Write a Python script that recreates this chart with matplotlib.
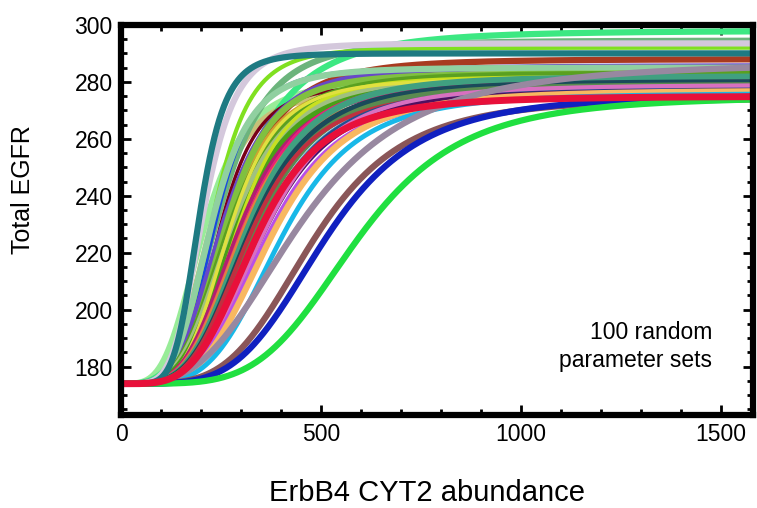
import numpy as np
import matplotlib
matplotlib.use("Agg")
import matplotlib.pyplot as plt
from matplotlib.ticker import MultipleLocator

plt.rcParams['font.family'] = ['Liberation Sans', 'DejaVu Sans']

# ---- data -----------------------------------------------------------------
baseline = 174.0          # Total EGFR at zero ErbB4 CYT2
x_max = 1580.0
# per-curve: half-maximal abundance, steepness, plateau level
midpoints = [205, 218, 245, 275, 230, 235, 243, 255, 270, 255, 265, 225, 260, 270,
             275, 285, 290, 270, 290, 305, 300, 315, 322, 330, 340, 320, 345, 350,
             345, 355, 365, 375, 400, 450, 480, 510, 205, 195, 590, 335]
hill_n    = [3.8, 4.5, 4.0, 3.5, 5.0, 5.0, 5.0, 4.5, 4.0, 4.0, 4.5, 4.5, 4.5, 4.0,
             4.0, 4.0, 4.5, 4.5, 4.0, 4.0, 4.0, 4.0, 4.0, 4.0, 4.0, 4.0, 4.0, 4.0,
             4.0, 4.0, 4.0, 4.0, 4.2, 3.2, 4.2, 4.3, 5.0, 6.0, 4.5, 4.0]
plateaus  = [281, 277, 294.5, 298, 292, 285, 279, 278, 288, 285.5, 280, 285, 283, 283,
             281, 280, 282, 281, 279, 281, 278, 282, 280, 279, 278, 277, 278, 277,
             276, 279, 276, 277, 276, 287, 274.5, 275.5, 293.5, 290, 275, 275]
colors    = ['#98ec98', '#c8c078', '#6cb47c', '#3ce882', '#80e020', '#1848e0', '#780018',
             '#7898c8', '#a83a20', '#6848c8', '#d0a030', '#90d0a0', '#80c040', '#5aa020',
             '#a0c080', '#48a018', '#c8e020', '#e0e040', '#b02070', '#e8207a', '#e08040',
             '#40a080', '#1a4a5a', '#5a8a50', '#68a8c8', '#c03040', '#205090', '#501060',
             '#1010a0', '#d870c0', '#b850e8', '#f8b860', '#18b8e8', '#9888a0', '#8a5658',
             '#1020c0', '#d4c8dc', '#1e7a82', '#20e040', '#e8103a']
widths    = [4.5, 4.5, 4.5, 4.5, 3.0, 2.0, 2.5, 4.5, 4.5, 4.5, 4.5, 4.5, 4.5, 4.5,
             4.5, 4.5, 2.5, 2.5, 3.0, 4.5, 3.0, 4.5, 4.5, 4.5, 3.0, 3.0, 4.5, 4.0,
             2.5, 3.0, 4.5, 4.5, 3.5, 4.5, 4.5, 4.5, 4.5, 4.5, 4.5, 5.0]

x_ticks = [0, 500, 1000, 1500]
y_ticks = [180, 200, 220, 240, 260, 280, 300]

# ---- figure ---------------------------------------------------------------
fig = plt.figure(figsize=(7.57, 5.08), dpi=100)
ax = fig.add_axes([0.160, 0.183, 0.835, 0.768])

x = np.linspace(0, x_max, 800)
for K, n, P, c, lw in zip(midpoints, hill_n, plateaus, colors, widths):
    y = baseline + (P - baseline) * x**n / (K**n + x**n)
    ax.plot(x, y, color=c, lw=lw, solid_capstyle='butt')

ax.set_xlim(0, x_max)
ax.set_ylim(163, 300)
ax.set_xticks(x_ticks)
ax.set_yticks(y_ticks)
ax.xaxis.set_minor_locator(MultipleLocator(100))
ax.yaxis.set_minor_locator(MultipleLocator(5))
ax.tick_params(which='both', direction='in', top=True, right=True, width=2,
               labelsize=16.5, color='black')
ax.tick_params(which='major', length=7, pad=6)
ax.tick_params(which='minor', length=4)
for s in ax.spines.values():
    s.set_linewidth(4.5)

ax.set_ylabel('Total EGFR', fontsize=18)
ax.yaxis.set_label_coords(-0.155, 0.577)
ax.yaxis.label.set_va('center')
ax.set_xlabel('ErbB4 CYT2 abundance', fontsize=21)
ax.xaxis.set_label_coords(0.484, -0.2)
ax.xaxis.label.set_va('center')

ax.text(0.935, 0.176, '100 random\nparameter sets', transform=ax.transAxes,
        ha='right', va='center', fontsize=16.5, multialignment='right', linespacing=1.3)

fig.savefig('out.png', dpi=100)
